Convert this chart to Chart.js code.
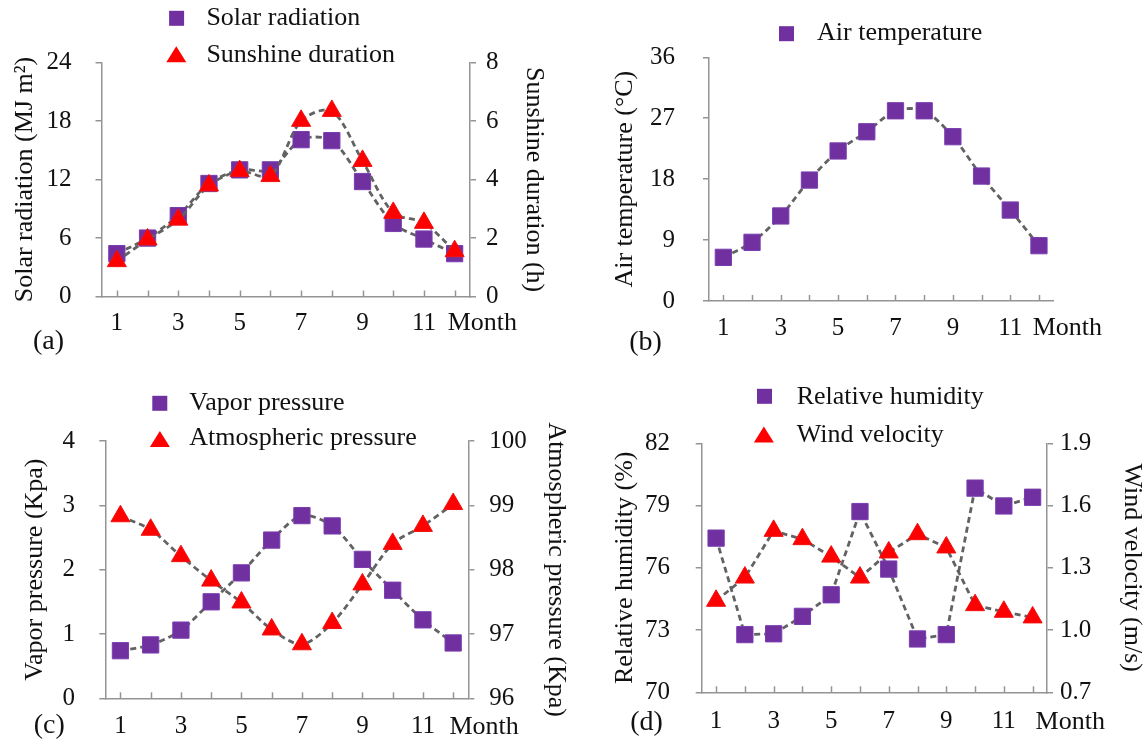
<!DOCTYPE html>
<html><head><meta charset="utf-8">
<script src="https://cdn.jsdelivr.net/npm/chart.js@4.4.1/dist/chart.umd.min.js"></script>
<style>
html,body{margin:0;padding:0;background:#fff;width:1145px;height:753px;overflow:hidden;}
canvas{position:absolute;}
</style></head><body>
<canvas id="ca" width="572" height="376" style="left:0;top:0"></canvas>
<canvas id="cb" width="573" height="376" style="left:572px;top:0"></canvas>
<canvas id="cc" width="572" height="377" style="left:0;top:376px"></canvas>
<canvas id="cd" width="573" height="377" style="left:572px;top:376px"></canvas>
<script>
// ---- data ----
const months = ['1','2','3','4','5','6','7','8','9','10','11','12'];
const solarRadiation = [4.4, 6.0, 8.3, 11.6, 13.0, 13.0, 16.1, 16.0, 11.8, 7.5, 5.9, 4.4];
const sunshineDuration = [1.21, 1.95, 2.63, 3.80, 4.29, 4.12, 6.01, 6.35, 4.64, 2.86, 2.52, 1.55];
const airTemperature = [6.45, 8.67, 12.56, 17.87, 22.16, 25.0, 28.1, 28.1, 24.27, 18.46, 13.44, 8.17];
const vaporPressure = [0.74, 0.83, 1.06, 1.50, 1.95, 2.46, 2.84, 2.68, 2.16, 1.68, 1.22, 0.86];
const atmosphericPressure = [98.83, 98.62, 98.21, 97.83, 97.49, 97.07, 96.84, 97.17, 97.77, 98.40, 98.68, 99.02];
const relativeHumidity = [77.43, 72.78, 72.82, 73.66, 74.70, 78.71, 75.94, 72.57, 72.78, 79.84, 78.98, 79.40];
const windVelocity = [1.141, 1.253, 1.478, 1.438, 1.354, 1.253, 1.374, 1.462, 1.398, 1.120, 1.088, 1.061];

const solarTicks = [0, 6, 12, 18, 24];
const sunshineTicks = [0, 2, 4, 6, 8];
const airTicks = [0, 9, 18, 27, 36];
const vaporTicks = [0, 1, 2, 3, 4];
const atmTicks = [96, 97, 98, 99, 100];
const humidityTicks = [70, 73, 76, 79, 82];
const windTicks = [0.7, 1.0, 1.3, 1.6, 1.9];

// ---- styles ----
const FONT = '"Liberation Serif", "Times New Roman", serif';
const AXIS = '#949494';
const PURPLE = '#7030A0';
const RED = '#FF0000';
const LINE = '#626262';
const TEXT = '#111111';

function drawSquare(ctx, x, y, s) {
  ctx.fillStyle = PURPLE;
  ctx.fillRect(x - s / 2, y - s / 2, s, s);
}
function drawTriangle(ctx, x, y, w, h) {
  ctx.fillStyle = RED;
  ctx.beginPath();
  ctx.moveTo(x, y - h / 2);
  ctx.lineTo(x + w / 2, y + h / 2);
  ctx.lineTo(x - w / 2, y + h / 2);
  ctx.closePath();
  ctx.fill();
}

const decor = {
  id: 'decor',
  afterDraw(chart, args, o) {
    const ctx = chart.ctx;
    const xs = chart.scales.x;
    const bottom = chart.chartArea.bottom;
    ctx.save();
    // inside tick marks on the category axis
    ctx.strokeStyle = AXIS;
    ctx.lineWidth = 1.5;
    for (let i = 0; i < months.length; i++) {
      const px = Math.round(xs.getPixelForValue(i)) + 0.5;
      ctx.beginPath();
      ctx.moveTo(px, bottom);
      ctx.lineTo(px, bottom - 6);
      ctx.stroke();
    }
    ctx.fillStyle = TEXT;
    ctx.textBaseline = 'middle';
    ctx.textAlign = 'left';
    ctx.font = '26px ' + FONT;
    ctx.fillText('Month', xs.getPixelForValue(months.length - 1) + o.monthDx, o.monthY);
    ctx.textAlign = 'center';
    ctx.font = '28px ' + FONT;
    ctx.fillText(o.letter, o.letterX, o.letterY);
    // legend
    ctx.font = '26px ' + FONT;
    ctx.textAlign = 'left';
    o.legend.forEach(it => {
      const dsi = chart.data.datasets[it.ds];
      if (dsi.pointStyle === 'rect') drawSquare(ctx, it.mx, it.my, 15);
      else drawTriangle(ctx, it.mx, it.my, 20, 16);
      ctx.fillStyle = TEXT;
      ctx.fillText(dsi.label, it.tx, it.ty);
    });
    ctx.restore();
  }
};

function series(label, data, axis, style, order, tension) {
  const sq = style === 'rect';
  return {
    label, data, yAxisID: axis, order, tension,
    borderColor: LINE, borderWidth: 2.8, borderDash: [6, 4],
    pointStyle: style, pointRadius: sq ? 11.5 : 11, pointHoverRadius: sq ? 11.5 : 11,
    pointBackgroundColor: sq ? PURPLE : RED,
    pointBorderColor: sq ? '#7a3db0' : '#f01010', pointBorderWidth: 1,
    fill: false
  };
}

function yAxis(pos, min, max, tickArr, width, tickLen, pad, title, titlePad, decimals) {
  return {
    position: pos, min, max,
    afterBuildTicks: s => { s.ticks = tickArr.map(v => ({ value: v })); },
    afterFit: s => { s.width = width; },
    border: { display: true, color: AXIS, width: 1.5 },
    grid: { display: true, drawOnChartArea: false, drawTicks: true, tickLength: tickLen, color: AXIS, lineWidth: 1.5 },
    ticks: { padding: pad, color: TEXT, font: { family: FONT, size: 25 },
      callback: v => decimals ? Number(v).toFixed(decimals) : String(v) },
    title: { display: true, text: title, color: TEXT, font: { family: FONT, size: 26, lineHeight: 1 },
      padding: { top: titlePad, bottom: 0 } }
  };
}

function xAxis(height, pad) {
  return {
    type: 'category', offset: true,
    afterFit: s => { s.height = height; },
    border: { display: true, color: AXIS, width: 1.5 },
    grid: { display: false, drawTicks: false },
    ticks: { autoSkip: false, maxRotation: 0, minRotation: 0, padding: pad, color: TEXT,
      font: { family: FONT, size: 25 },
      callback: (v, i) => (i % 2 === 0 ? months[i] : '') }
  };
}

function make(id, datasets, scales, padding, decorOpts) {
  return new Chart(document.getElementById(id), {
    type: 'line',
    data: { labels: months, datasets },
    options: {
      responsive: false, animation: false, devicePixelRatio: 1,
      layout: { padding },
      plugins: { legend: { display: false }, tooltip: { enabled: false }, decor: decorOpts },
      scales
    },
    plugins: [decor]
  });
}

// (a)
make('ca',
  [series('Solar radiation', solarRadiation, 'y', 'rect', 1, 0.3),
   series('Sunshine duration', sunshineDuration, 'y1', 'triangle', 0, 0.3)],
  {
    x: xAxis(79.5, 12),
    y: yAxis('left', 0, 24, solarTicks, 101.5, 6, 24, 'Solar radiation (MJ m\u00B2)', 11.7, 0),
    y1: yAxis('right', 0, 8, sunshineTicks, 102, 6, 10, 'Sunshine duration (h)', 25.5, 0)
  },
  { top: 62.7, left: 0, right: 0, bottom: 0 },
  { monthDx: -7, monthY: 323.3, letter: '(a)', letterX: 48.5, letterY: 341.7,
    legend: [{ ds: 0, mx: 176.6, my: 18.3, tx: 206.4, ty: 18 },
             { ds: 1, mx: 176.3, my: 54.2, tx: 206.4, ty: 55 }] }
);

// (b)
make('cb',
  [series('Air temperature', airTemperature, 'y', 'rect', 0, 0.3)],
  {
    x: xAxis(75, 12.3),
    y: yAxis('left', 0, 36, airTicks, 137, 6, 28, 'Air temperature (\u00B0C)', 40, 0)
  },
  { top: 57.3, left: 0, right: 91.7, bottom: 0 },
  { monthDx: -6.3, monthY: 328.3, letter: '(b)', letterX: 73.5, letterY: 343,
    legend: [{ ds: 0, mx: 214.5, my: 33.7, tx: 245, ty: 33 }] }
);

// (c)
make('cc',
  [series('Vapor pressure', vaporPressure, 'y', 'rect', 1, 0.3),
   series('Atmospheric pressure', atmosphericPressure, 'y1', 'triangle', 0, 0.3)],
  {
    x: xAxis(54.7, 13.4),
    y: yAxis('left', 0, 4, vaporTicks, 105.3, 6, 24.4, 'Vapor pressure (Kpa)', 21.7, 0),
    y1: yAxis('right', 96, 100, atmTicks, 103.7, 6, 15, 'Atmospheric pressure (Kpa)', 3.6, 0)
  },
  { top: 65, left: 0, right: 0, bottom: 0 },
  { monthDx: -3.7, monthY: 350.7, letter: '(c)', letterX: 49.3, letterY: 350,
    legend: [{ ds: 0, mx: 159.8, my: 27.3, tx: 189.3, ty: 27.3 },
             { ds: 1, mx: 159.9, my: 63, tx: 189.3, ty: 62.3 }] }
);

// (d)
make('cd',
  [series('Relative humidity', relativeHumidity, 'y', 'rect', 1, 0),
   series('Wind velocity', windVelocity, 'y1', 'triangle', 0, 0)],
  {
    x: xAxis(60.7, 14.4),
    y: yAxis('left', 70, 82, humidityTicks, 129.7, 6, 25.7, 'Relative humidity (%)', 40.3, 0),
    y1: yAxis('right', 0.7, 1.9, windTicks, 98, 6, 7, 'Wind velocity (m/s)', 0, 1)
  },
  { top: 67.3, left: 0, right: 0, bottom: 0 },
  { monthDx: 3, monthY: 345.7, letter: '(d)', letterX: 74.5, letterY: 347,
    legend: [{ ds: 0, mx: 192.5, my: 20.3, tx: 224.7, ty: 20.7 },
             { ds: 1, mx: 191.9, my: 58.5, tx: 224.7, ty: 59 }] }
);
</script>
</body></html>
